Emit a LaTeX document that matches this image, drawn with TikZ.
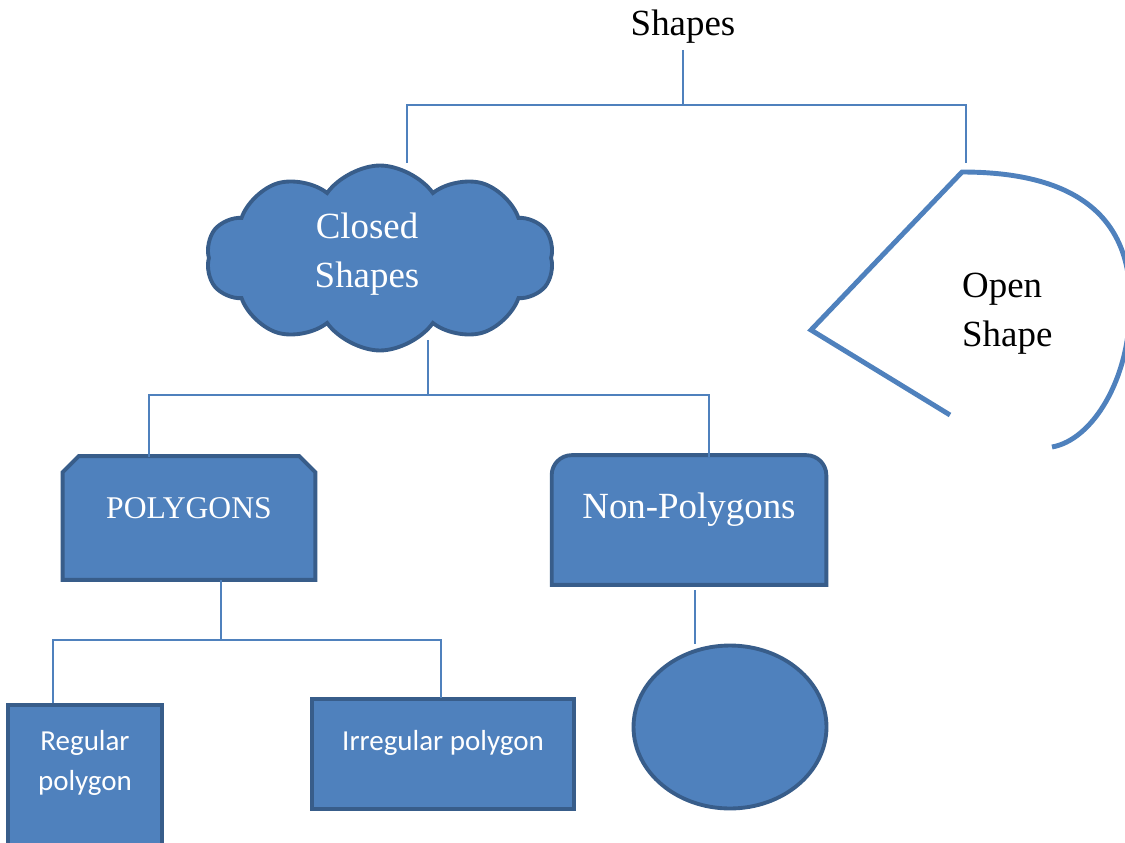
\documentclass[tikz,border=0pt]{standalone}
\usepackage{fontspec}
\setmainfont{Liberation Serif}
\newfontfamily\calibri{Carlito}
\usetikzlibrary{shapes.symbols,shapes.geometric}
\definecolor{shapefill}{HTML}{4F81BD}
\definecolor{shapeedge}{HTML}{385D8A}
\tikzset{
  boxline/.style={draw=shapeedge, line width=2.2pt, fill=shapefill},
  treeline/.style={draw=shapefill, line width=0.9pt},
  openline/.style={draw=shapefill, line width=2.8pt},
  bigtext/.style={font=\fontsize{21}{28}\selectfont, align=center},
  whitetext/.style={bigtext, text=white},
  calibritext/.style={text=white, font=\calibri\fontsize{16.5}{22.7}\selectfont, align=center},
}
\begin{document}
\begin{tikzpicture}[x=0.02cm,y=-0.02cm]
\useasboundingbox (0,0) rectangle (1125,842);
\clip (0,0) rectangle (1125,842);

% top of the tree
\node[bigtext] (shapes) at (683,27) {Shapes};
\node[cloud, cloud puffs=10, cloud puff arc=110, aspect=2, boxline, minimum width=6.95cm, minimum height=3.7cm] (closed) at (380,258) {};
\node[whitetext] (closedtxt) at (367,254) {Closed\\Shapes};

\coordinate (fork1) at (683,105);
\coordinate (clin) at (407,163);
\coordinate (opin) at (966,163);
\draw[treeline] (shapes.south) -- (fork1);
\draw[treeline] (clin) |- (fork1) -| (opin);

% open shape
\coordinate (optop) at (962,172);
\draw[openline] (950,415) -- (811,330) -- (optop) .. controls (1080,172) and (1132,220) .. (1130,305) .. controls (1130,380) and (1092,440) .. (1052,447);
\node[bigtext, anchor=west, align=left] (opentxt) at (956,314) {Open\\Shape};

% polygons and non-polygons
\node[minimum width=5.04cm, minimum height=2.46cm, inner sep=0pt] (poly) at (189,518) {};
\draw[boxline] (poly.south west) -- ([yshift=-0.32cm]poly.north west) -- ([xshift=0.32cm]poly.north west) -- ([xshift=-0.32cm]poly.north east) -- ([yshift=-0.32cm]poly.north east) -- (poly.south east) -- cycle;
\node[whitetext, font=\fontsize{18}{22}\selectfont] (polytxt) at (189,508) {POLYGONS};
\node[minimum width=5.48cm, minimum height=2.58cm, inner sep=0pt] (np) at (689,520) {};
\draw[boxline] (np.south west) -- ([yshift=-0.4cm]np.north west) arc[start angle=180, end angle=90, radius=0.4cm] -- ([xshift=-0.4cm]np.north east) arc[start angle=90, end angle=0, radius=0.4cm] -- (np.south east) -- cycle;
\node[whitetext] (nptxt) at (689,510) {Non-Polygons};

\coordinate (clout) at (428,340);
\coordinate (fork2) at (428,395);
\coordinate (polyin) at (149,457);
\coordinate (npin) at (709,457);
\draw[treeline] (clout) -- (fork2);
\draw[treeline] (polyin) |- (fork2) -| (npin);

% regular and irregular polygons
\node[boxline, minimum width=3.08cm, minimum height=4cm, anchor=north] (reg) at (85,703) {};
\node[calibritext] (regtxt) at (85,763) {Regular\\polygon};
\node[boxline, minimum width=5.24cm, minimum height=2.2cm] (irr) at (443,754) {};
\node[calibritext] (irrtxt) at (443,743) {Irregular polygon};

\coordinate (polyout) at (221,580);
\coordinate (fork3) at (221,640);
\coordinate (regin) at (53,703);
\coordinate (irrin) at (441,698);
\draw[treeline] (polyout) -- (fork3);
\draw[treeline] (regin) |- (fork3) -| (irrin);

% circle under non-polygons
\node[ellipse, boxline, minimum width=3.86cm, minimum height=3.26cm] (circ) at (730,727) {};
\coordinate (npout) at (695,590);
\draw[treeline] (npout) -- (npout |- circ.north);
\end{tikzpicture}
\end{document}
